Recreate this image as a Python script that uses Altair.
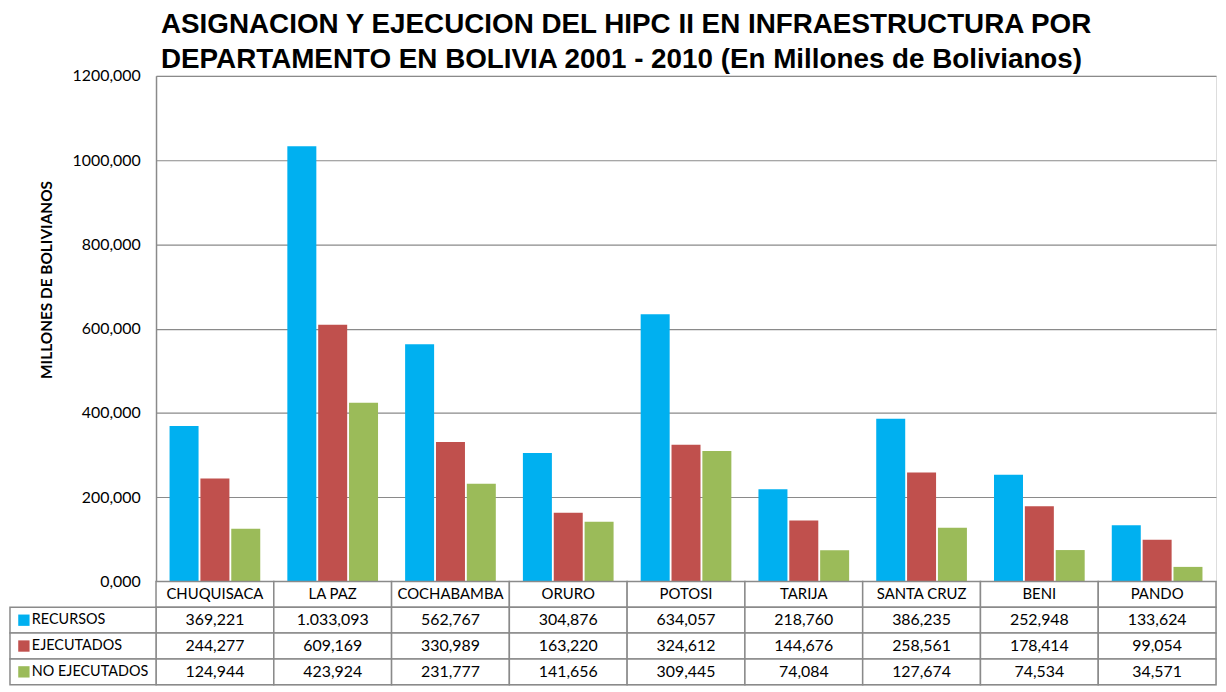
import altair as alt
import pandas as pd

departamentos = ["CHUQUISACA", "LA PAZ", "COCHABAMBA", "ORURO", "POTOSI",
                 "TARIJA", "SANTA CRUZ", "BENI", "PANDO"]
series = ["RECURSOS", "EJECUTADOS", "NO EJECUTADOS"]
recursos = [369.221, 1033.093, 562.767, 304.876, 634.057, 218.760, 386.235, 252.948, 133.624]
ejecutados = [244.277, 609.169, 330.989, 163.220, 324.612, 144.676, 258.561, 178.414, 99.054]
no_ejecutados = [124.944, 423.924, 231.777, 141.656, 309.445, 74.084, 127.674, 74.534, 34.571]
y_ticks = [0, 200, 400, 600, 800, 1000, 1200]
colores = ["#00B0F0", "#C0504D", "#9BBB59"]
titulo = ["ASIGNACION  Y EJECUCION DEL HIPC II EN INFRAESTRUCTURA POR",
          "DEPARTAMENTO EN BOLIVIA  2001 - 2010 (En Millones de Bolivianos)"]
eje_y = "MILLONES DE BOLIVIANOS"

FONT = "Lato"
GRIS = "#8a8a8a"
W = 1067

rows = []
for s, vals in zip(series, [recursos, ejecutados, no_ejecutados]):
    for d, v in zip(departamentos, vals):
        rows.append({"dept": d, "serie": s, "valor": v})
df = pd.DataFrame(rows)

fila_cab = "CAB"
filas = [fila_cab] + series
celdas = pd.DataFrame([{"dept": d, "fila": f} for d in departamentos for f in filas])
cab = pd.DataFrame({"dept": departamentos, "fila": [fila_cab] * len(departamentos)})
etiquetas = pd.DataFrame({"fila": series, "serie": series})

color_scale = alt.Scale(domain=series, range=colores)

bars = alt.Chart(df).mark_bar().encode(
    x=alt.X("dept:N", sort=departamentos,
            scale=alt.Scale(domain=departamentos, paddingInner=0.23, paddingOuter=0.115),
            axis=None),
    xOffset=alt.XOffset("serie:N", sort=series,
                        scale=alt.Scale(domain=series, paddingInner=0.06)),
    y=alt.Y("valor:Q", scale=alt.Scale(domain=[0, 1200], nice=False),
            axis=alt.Axis(values=y_ticks, title=eje_y,
                          labelExpr="replace(format(datum.value, '.3f'), '.', ',')",
                          labelFont=FONT, labelFontSize=16, labelColor="black",
                          labelPadding=16, ticks=False,
                          domainColor=GRIS, domainWidth=1.5,
                          gridColor=GRIS, gridWidth=1.2,
                          titleFont=FONT, titleFontSize=15.5, titleFontWeight="bold",
                          titleColor="black", titleX=-110, titleY=205,
                          titleAlign="center", titleBaseline="middle", titleAngle=-90)),
    color=alt.Color("serie:N", scale=color_scale, legend=None),
).properties(
    width=W, height=509,
    title=alt.TitleParams(text=titulo, anchor="start", frame="group", dx=5,
                          font="Liberation Sans", fontSize=28, fontWeight="bold",
                          lineHeight=35, color="black", offset=-6),
)

x_tab = alt.X("dept:N", sort=departamentos,
              scale=alt.Scale(domain=departamentos, paddingInner=0, paddingOuter=0),
              axis=None)
y_tab = alt.Y("fila:N", sort=filas,
              scale=alt.Scale(domain=filas, paddingInner=0, paddingOuter=0),
              axis=None)

cells = alt.Chart(celdas).mark_rect(fill="white", stroke=GRIS, strokeWidth=1.5).encode(
    x=x_tab, y=y_tab)
left_cells = alt.Chart(etiquetas).mark_rect(fill="white", stroke=GRIS, strokeWidth=1.5).encode(
    x=alt.value(-147), x2=alt.value(0), y=y_tab)
squares = alt.Chart(etiquetas).mark_square(size=130, opacity=1).encode(
    x=alt.value(-133), y=y_tab,
    color=alt.Color("serie:N", scale=color_scale, legend=None))
labels = alt.Chart(etiquetas).mark_text(align="left", baseline="middle", font=FONT,
                                         fontSize=14.5, color="black").encode(
    x=alt.value(-125), y=y_tab, text="fila:N")
header = alt.Chart(cab).mark_text(baseline="middle", font=FONT, fontSize=15,
                                  color="black").encode(
    x=x_tab, y=y_tab, text="dept:N")
values = alt.Chart(df).transform_calculate(
    fila="datum.serie",
    etq="replace(replace(replace(format(datum.valor, ',.3f'), ',', '_'), '.', ','), '_', '.')",
).mark_text(baseline="middle", font=FONT, fontSize=16, color="black").encode(
    x=x_tab, y=y_tab, text="etq:N")

table = alt.layer(cells, left_cells, squares, labels, header, values).properties(
    width=W, height=104)

chart = alt.vconcat(bars, table, spacing=0, bounds="flush").configure_view(
    strokeWidth=0).configure(background="white").properties(padding=0)

chart.save("out.html", embed_options={"renderer": "svg", "actions": False})
